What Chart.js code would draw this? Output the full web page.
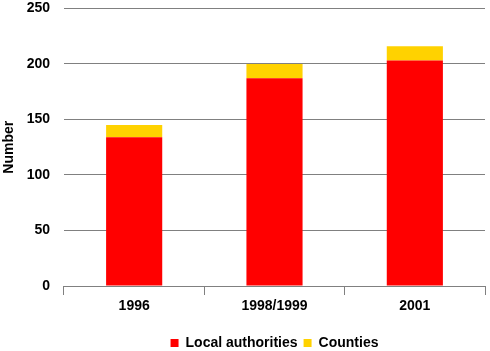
<!DOCTYPE html>
<html>
<head>
<meta charset="utf-8">
<script src="https://cdn.jsdelivr.net/npm/chart.js@4"></script>
<style>
html,body{margin:0;padding:0;background:#fff;}
#wrap{width:490px;height:351px;}
</style>
</head>
<body>
<div id="wrap"><canvas id="c" width="490" height="351"></canvas></div>
<script>
const categories = ["1996", "1998/1999", "2001"];
const localAuthorities = [134, 187, 203];
const counties = [11, 13, 13];
const yTicks = [0, 50, 100, 150, 200, 250];

const font = {family: "'Liberation Sans', Arial, sans-serif", size: 14, weight: "bold"};

new Chart(document.getElementById("c"), {
  type: "bar",
  data: {
    labels: categories,
    datasets: [
      {label: "Local authorities", data: localAuthorities, backgroundColor: "#ff0000", borderWidth: 0},
      {label: "Counties", data: counties, backgroundColor: "#ffd200", borderWidth: 0}
    ]
  },
  options: {
    responsive: false,
    animation: false,
    layout: {padding: {top: 0, right: 5, left: 1, bottom: -9}},
    datasets: {bar: {categoryPercentage: 1, barPercentage: 0.4}},
    plugins: {
      tooltip: {enabled: false},
      legend: {
        position: "bottom",
        fullSize: false,
        labels: {boxWidth: 8, boxHeight: 8, font: font, color: "#000", padding: 6}
      }
    },
    scales: {
      x: {
        stacked: true,
        grid: {drawOnChartArea: false, color: "#808080", tickLength: 9, offset: true},
        border: {display: false},
        ticks: {font: font, color: "#000", padding: 3},
        afterFit: (s) => { s.height = 44; }
      },
      y: {
        stacked: true,
        min: 0, max: 250,
        afterBuildTicks: (s) => { s.ticks = yTicks.map(v => ({value: v})); },
        afterFit: (s) => { s.width = 63; },
        grid: {color: "#808080", drawTicks: true, tickLength: 14, tickColor: "rgba(0,0,0,0)"},
        border: {display: false},
        ticks: {font: font, color: "#000", padding: 0},
        title: {display: true, text: "Number", font: font, color: "#000", padding: 0}
      }
    }
  }
});
</script>
</body>
</html>
